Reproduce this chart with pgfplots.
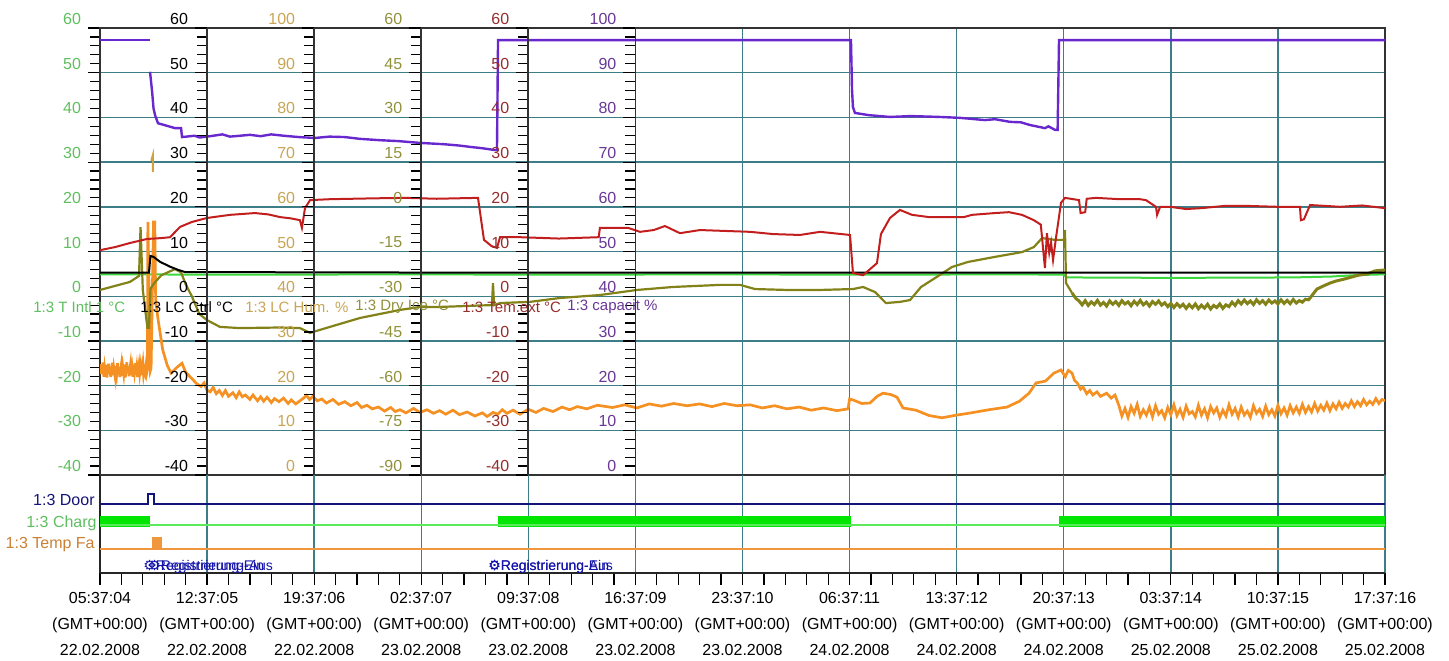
\documentclass[border=0pt]{standalone}
\usepackage{pgfplots}
\pgfplotsset{compat=1.18}
\usepackage{fontspec}
\setmainfont{Liberation Sans}
\newfontfamily\symfont{DejaVu Sans}

\definecolor{gridc}{RGB}{60,125,135}
\definecolor{labgreen}{RGB}{95,190,95}
\definecolor{labtan}{RGB}{200,165,85}
\definecolor{labolive}{RGB}{145,145,60}
\definecolor{labred}{RGB}{150,45,45}
\definecolor{labpurple}{RGB}{105,55,150}
\definecolor{cpurple}{RGB}{105,40,205}
\definecolor{cred}{RGB}{195,30,30}
\definecolor{cgreen}{RGB}{60,215,60}
\definecolor{colive}{RGB}{130,130,25}
\definecolor{corange}{RGB}{245,145,35}
\definecolor{ctan}{RGB}{210,160,60}
\definecolor{cnavy}{RGB}{20,20,120}
\definecolor{cbar}{RGB}{0,230,0}
\definecolor{cbarline}{RGB}{90,235,90}
\definecolor{cfa}{RGB}{240,150,60}
\definecolor{cblue}{RGB}{20,20,170}

\pgfplotsset{
  sideax/.style={
    scale only axis, height=223.5pt, anchor=north west,
    hide x axis, xmin=0, xmax=1,
    axis y line*=left, y axis line style={black!80, line width=0.9pt, -},
    tick align=outside, major tick length=6pt, minor tick length=5pt,
    minor y tick num=4, ytick style={black, line width=0.6pt},
    yticklabel style={yshift=4.5pt, font=\fontsize{8}{9}\selectfont},
    /pgf/number format/assume math mode=true,
  },
}

\begin{document}
\begin{tikzpicture}
\useasboundingbox (0,0) rectangle (724.5pt,-330pt);

% main chart, time in hours from 05:37:04 22.02.2008
\begin{axis}[
  at={(50pt,-14pt)}, anchor=north west,
  scale only axis, width=642.5pt, height=223.5pt,
  xmin=0, xmax=84, ymin=-40, ymax=60,
  xtick={0,7,...,84}, xticklabels={}, xtick style={draw=none},
  ytick={-40,-30,...,60}, minor y tick num=4, ytick pos=left,
  tick align=outside, major tick length=6pt, minor tick length=5pt,
  ytick style={black, line width=0.6pt},
  grid=major, major grid style={gridc, line width=0.7pt},
  axis line style={black!80, line width=0.9pt},
  yticklabel style={text=labgreen, yshift=4.5pt, font=\fontsize{8}{9}\selectfont},
  /pgf/number format/assume math mode=true,
]
% T Intl 1
\addplot[cgreen, line width=1pt] coordinates {
 (0,4.9)(10,4.8)(20,4.9)(30,4.8)(40,4.9)(50,4.8)(60,4.9)(63,4.8)(63.2,4.2)(70,4.1)(78,4.2)(80.5,4.4)(82,4.7)(84,4.9)};
% LC Hum (%)
\addplot[corange, line width=1.35pt, y filter/.expression={y-40}] coordinates {
 (0.00,24.0)(0.05,22.6)(0.10,24.8)(0.15,23.1)(0.20,25.2)(0.25,22.0)(0.30,23.9)(0.35,22.4)(0.40,24.6)(0.45,21.8)
 (0.50,23.5)(0.55,24.9)(0.60,22.7)(0.65,24.2)(0.70,21.9)(0.75,23.8)(0.80,25.1)(0.85,22.3)(0.90,24.0)(0.95,22.8)
 (1.00,21.7)(1.05,24.4)(1.10,23.0)(1.15,25.0)(1.20,22.5)(1.25,24.1)(1.30,21.9)(1.35,23.6)(1.40,24.8)(1.45,22.2)
 (1.50,23.9)(1.55,22.6)(1.60,24.7)(1.65,21.8)(1.70,23.4)(1.75,25.2)(1.80,22.9)(1.85,24.3)(1.90,22.1)(1.95,23.7)
 (2.00,24.9)(2.05,22.4)(2.10,23.8)(2.15,22.0)(2.20,24.5)(2.25,23.1)(2.30,25.0)(2.35,22.6)(2.40,24.0)(2.45,21.9)
 (2.50,23.5)(2.55,24.7)(2.60,22.8)(2.65,24.2)(2.70,22.3)(2.75,23.9)(2.80,25.1)(2.85,22.5)(2.90,23.6)(2.95,22.9)
 (3.00,24.3)(3.05,22.7)(3.10,23.5)
 (3.13,56.6)(3.30,23.5)(3.34,24.0)(3.50,56.6)(3.58,56.6)(3.64,39.0)(3.80,34.7)(4.10,28.0)(4.40,24.5)(4.65,22.8)
 (5.0,24.0)(5.36,25.0)(5.6,23.0)(6.08,21.3)
 (6.3,20.5)(6.6,19.8)(6.8,20.6)(6.99,19.0)(7.2,18.6)(7.4,19.6)(7.6,18.2)(7.8,18.9)(8.0,17.8)(8.2,18.9)
 (8.4,17.6)(8.69,18.4)(8.9,17.3)(9.1,18.6)(9.3,17.5)(9.5,17.9)(9.8,16.9)(10.0,17.9)(10.3,16.6)(10.5,17.5)
 (10.7,16.5)(10.92,17.4)(11.2,16.2)(11.4,17.1)(11.7,16.4)(12,17.2)(12.3,16.0)(12.5,16.8)(12.8,15.9)(13.07,16.6)
 (13.3,17.2)(13.5,17.8)(13.7,16.9)(13.92,17.6)(14.2,16.6)(14.5,17.0)(14.8,16.1)(15.23,16.9)(15.6,15.8)(16,16.4)
 (16.4,15.5)(16.8,16.2)(17.1,15.1)(17.45,15.6)(17.8,14.8)(18.2,15.2)(18.6,14.3)(19.0,15.1)(19.3,14.2)(19.61,14.6)
 (20.0,13.9)(20.5,14.9)(20.9,14.0)(21.38,14.6)(21.8,13.8)(22.2,14.4)(22.6,13.6)(23.07,14.5)(23.5,13.5)(24.0,14.1)
 (24.5,13.2)(25.0,13.9)(25.3,13.1)(25.7,14.0)(26.0,13.6)(26.3,14.6)(26.6,13.8)(27.0,14.5)(27.45,13.6)(28.0,14.7)
 (28.5,14.0)(29.0,14.9)(29.61,14.2)(30.2,15.2)(30.7,14.6)(31.2,15.3)(31.83,14.8)(32.5,15.6)(33.5,15.1)(34.3,15.7)
 (35.1,15.0)(35.9,15.9)(36.7,15.4)(37.5,16.0)(38.37,15.5)(39.2,15.9)(40,15.3)(40.8,16.0)(41.64,15.5)(42.5,15.7)
 (43.3,15.0)(44.1,15.5)(44.91,14.8)(45.7,15.2)(46.5,14.5)(47.3,15.0)(48.18,14.4)(48.9,14.8)(49.0,17.0)(49.22,16.8)
 (49.8,16.0)(50.33,16.1)(50.8,17.6)(51.18,18.3)(51.7,18.0)(52.1,17.4)(52.49,15.0)(53.34,14.5)(54.2,13.3)
 (55.04,12.8)(56.0,13.4)(56.94,13.9)(58.1,14.6)(59.29,15.2)(60.1,16.5)(60.73,18.3)(61.19,20.6)(61.8,21.0)
 (62.36,22.8)(62.82,23.5)(63.1,22.0)(63.3,23.4)(63.54,22.8)(63.7,21.2)(63.9,20.5)(64.1,19.2)(64.26,19.7)
 (64.5,18.2)(64.7,18.9)(64.9,17.9)(65.17,18.6)(65.4,17.6)(65.8,18.3)(66.1,17.2)(66.35,17.9)
 (66.6,15.6)(66.8,13.2)(67.0,14.9)(67.2,12.9)(67.4,15.3)(67.6,13.8)(67.8,15.8)(68.0,13.1)(68.2,14.6)(68.4,13.4)
 (68.6,15.2)(68.8,13.0)(69.0,15.5)(69.2,13.6)(69.4,14.4)(69.6,12.8)(69.8,15.1)(70.0,13.5)(70.2,15.7)(70.4,13.3)
 (70.6,14.7)(70.8,12.9)(71.0,15.4)(71.2,13.7)(71.4,14.2)(71.6,13.0)(71.8,15.6)(72.0,13.4)(72.2,14.8)(72.4,12.8)
 (72.6,15.3)(72.8,13.9)(73.0,15.0)(73.2,12.9)(73.4,14.5)(73.6,13.2)(73.8,15.7)(74.0,13.6)(74.2,14.9)(74.4,13.0)
 (74.6,15.2)(74.8,13.4)(75.0,14.3)(75.2,12.9)(75.4,15.5)(75.6,13.8)(75.8,14.7)(76.0,13.1)(76.2,15.4)(76.4,13.5)
 (76.6,14.6)(76.8,13.2)(77.0,15.6)(77.2,13.7)(77.4,15.0)(77.6,13.4)(77.8,15.5)(78.0,13.9)(78.2,15.2)(78.4,13.8)
 (78.6,15.8)(78.8,14.0)(79.0,15.3)(79.2,14.1)(79.4,16.0)(79.6,14.3)(79.8,15.6)(80.0,14.5)(80.2,16.1)(80.4,14.4)
 (80.6,15.9)(80.8,14.8)(81.0,16.3)(81.2,14.9)(81.4,16.0)(81.6,15.2)(81.8,16.6)(82.0,15.3)(82.2,16.4)(82.4,15.5)
 (82.6,16.9)(82.8,15.7)(83.0,16.5)(83.2,15.8)(83.4,17.1)(83.6,16.0)(83.8,16.9)(84.0,16.6)};
% LC Hum short trace
\addplot[ctan, line width=1pt, y filter/.expression={y-40}] coordinates {(3.35,70.3)(3.46,71.6)(3.46,67.8)};
% Dry Ice (scale -90..60)
\addplot[colive, line width=1.1pt, y filter/.expression={(y+90)*2/3-40}] coordinates {
 (0,-27.9)(1.96,-25.2)(2.55,-23.2)(2.65,-6.8)(2.8,-28.0)(3.1,-40.6)(3.2,-40.6)(3.3,-27.5)(3.5,-25.9)
 (4.0,-23.0)(4.9,-20.9)(5.3,-22.0)(5.6,-26.0)(6.0,-30.0)(6.5,-36.0)(6.99,-38.0)(7.84,-40.3)
 (9.15,-40.7)(11.77,-40.5)(13.07,-40.7)(13.73,-42.3)(14.38,-41.3)(15.03,-40.3)(17.0,-37.3)(19.61,-34.6)
 (20.92,-33.6)(22.23,-33.6)(25.49,-33.0)(25.62,-33.0)(25.69,-25.6)(25.76,-33.0)(26.15,-32.3)(28.11,-31.9)
 (30.07,-30.6)(32.68,-29.6)(35.1,-27.9)(37.46,-26.9)(40.53,-26.2)(41.84,-26.2)(42.82,-27.6)(44.91,-27.9)
 (47.07,-27.9)(49.22,-27.6)(49.88,-26.9)(50.66,-28.6)(51.38,-32.3)(52.29,-31.9)(52.95,-31.3)(53.67,-26.9)
 (54.71,-23.5)(55.69,-20.2)(56.74,-18.5)(58.5,-16.8)(60.27,-15.2)(61.05,-13.5)(61.58,-10.5)(62.43,-11.1)
 (63.01,-11.1)(63.08,-7.8)(63.15,-25.6)(63.54,-28.9)};
\addplot[colive, line width=1.5pt, y filter/.expression={(y+90)*2/3-40}] coordinates {
 (63.54,-28.9)(63.8,-30.8)(64.0,-31.6)(64.2,-32.9)(64.4,-31.5)(64.6,-33.1)(64.8,-31.9)(65.0,-32.8)(65.2,-31.4)
 (65.4,-33.0)(65.6,-32.1)(65.8,-33.3)(66.0,-31.6)(66.2,-32.7)(66.4,-31.8)(66.6,-33.1)(66.8,-31.5)(67.0,-32.6)
 (67.2,-31.9)(67.4,-33.2)(67.6,-31.7)(67.8,-32.8)(68.0,-31.4)(68.2,-32.9)(68.4,-32.0)(68.6,-33.3)(68.8,-31.8)
 (69.0,-32.7)(69.2,-31.6)(69.4,-33.0)(69.6,-32.2)(69.8,-33.5)(70.0,-32.4)(70.2,-33.8)(70.4,-32.5)(70.6,-33.6)
 (70.8,-32.7)(71.0,-34.1)(71.2,-32.8)(71.4,-33.9)(71.6,-32.6)(71.8,-34.2)(72.0,-33.0)(72.2,-34.0)(72.4,-32.7)
 (72.6,-34.3)(72.8,-33.1)(73.0,-33.8)(73.2,-32.6)(73.4,-34.1)(73.6,-32.9)(73.8,-33.5)(74.0,-32.0)(74.2,-33.1)
 (74.4,-31.5)(74.6,-32.6)(74.8,-31.3)(75.0,-32.5)(75.2,-31.6)(75.4,-32.8)(75.6,-31.2)(75.8,-32.4)(76.0,-31.5)
 (76.2,-32.7)(76.4,-31.3)(76.6,-32.3)(76.8,-31.6)(77.0,-32.6)(77.2,-31.2)(77.4,-32.4)(77.6,-31.4)(77.8,-32.5)
 (78.0,-31.1)(78.2,-32.3)(78.4,-31.5)(78.6,-32.0)(78.8,-31.0)(79.0,-31.2)(79.1,-30.6)(79.55,-27.6)(80.0,-26.5)
 (80.4,-25.6)(80.8,-24.9)(81.3,-24.3)(81.8,-23.6)(82.3,-22.9)(82.8,-22.6)(83.35,-21.5)(84,-21.2)};
% LC Ctrl
\addplot[black, line width=1pt] coordinates {
 (0,5.3)(3.2,5.3)(3.3,9.0)(3.5,8.8)(3.92,7.7)(4.58,6.6)(5.1,5.9)(5.56,5.4)(20,5.3)(40,5.3)(60,5.3)(84,5.3)};
% Tem.ext
\addplot[cred, line width=1pt] coordinates {
 (0,10.3)(1.0,11.0)(1.96,11.9)(3.07,12.8)(4.0,13.0)(4.58,13.2)(5.23,15.5)(6.0,16.6)(6.99,17.5)(8.5,18.2)
 (10.13,18.6)(11.0,18.3)(11.77,17.7)(12.5,17.4)(13.07,17.0)(13.2,15.3)(13.4,19.7)(13.73,21.5)(15.03,21.7)
 (18,21.9)(20,22.0)(22,21.8)(24.71,22.0)(25.1,12.6)(25.6,11.2)(25.95,10.8)(26.15,13.2)(27.45,13.2)
 (30,12.9)(32.6,13.2)(32.68,15.3)(34.51,15.3)(35.3,14.4)(36.2,14.8)(36.93,15.7)(37.91,14.1)(39.22,14.8)
 (42.49,14.4)(44,13.9)(45.76,13.7)(47.07,14.4)(49.03,13.7)(49.22,5.2)(49.88,4.7)(50.79,7.4)(51.05,13.9)
 (51.64,17.5)(52.29,19.3)(53.08,18.2)(54.19,17.7)(56.48,17.7)(57.0,18.2)(58.5,18.6)(59.42,18.8)(60.27,18.2)
 (61.05,17.0)(61.5,16.0)(61.77,6.3)(61.9,14.1)(62.05,9.7)(62.17,12.0)(62.3,8.1)(62.49,13.0)(62.82,20.9)
 (63.08,22.0)(64.0,21.5)(64.1,18.6)(64.4,18.8)(64.5,21.8)(65.11,22.0)(66.68,21.7)(67.98,21.7)(68.37,21.5)
 (68.63,20.9)(69.03,20.0)(69.1,18.2)(69.3,20.0)(69.94,20.0)(71.0,19.5)(72,19.7)(73.5,20.2)(75,20.2)
 (77,20.0)(78.44,20.0)(78.5,17.0)(78.7,17.2)(79.1,20.4)(81.06,20.0)(82.5,20.3)(84,19.7)};
% capacit (%)
\addplot[cpurple, line width=1.2pt, y filter/.expression={y-40}] coordinates {(0,97.3)(3.25,97.3)};
\addplot[cpurple, line width=1.2pt, y filter/.expression={y-40}] coordinates {
 (3.27,90.2)(3.4,86.0)(3.5,82.0)(3.6,80.5)(3.79,78.7)(4.3,78.2)(4.9,77.6)(5.3,77.6)(5.36,75.6)(6.2,75.9)
 (6.5,75.5)(7.2,75.8)(8.0,76.2)(8.5,75.7)(9.8,76.1)(10.5,75.8)(11.2,76.2)(12,75.9)(13,75.6)(14.05,75.4)
 (15,75.7)(16,75.6)(17,75.2)(18.3,74.9)(19.5,74.7)(20.9,74.3)(22.5,74.0)(23.5,73.7)(24.2,73.4)(25,73.1)
 (25.8,72.7)(25.95,72.7)(26.02,97.3)(49.09,97.3)(49.16,86.1)(49.22,82.3)(49.35,81.0)(50.27,80.5)
 (51.64,80.1)(53,80.3)(54.91,80.1)(56.22,79.9)(57.85,79.4)(58.5,79.6)(59.49,79.0)(60.2,78.9)(60.79,78.3)
 (61.77,77.6)(62.0,78.0)(62.43,77.2)(62.6,77.2)(62.69,97.3)(84,97.3)};
\end{axis}

% extra scales on the grid lines
\begin{axis}[sideax, at={(103.54pt,-14pt)}, width=588.96pt, ymin=-40, ymax=60,
  ytick={-40,-30,...,60}, yticklabel style={text=black}]
\end{axis}
\begin{axis}[sideax, at={(157.08pt,-14pt)}, width=535.42pt, ymin=0, ymax=100,
  ytick={0,10,...,100}, yticklabel style={text=labtan}]
\end{axis}
\begin{axis}[sideax, at={(210.63pt,-14pt)}, width=481.87pt, ymin=-90, ymax=60,
  ytick={-90,-75,...,60}, yticklabel style={text=labolive}]
\end{axis}
\begin{axis}[sideax, at={(264.17pt,-14pt)}, width=428.33pt, ymin=-40, ymax=60,
  ytick={-40,-30,...,60}, yticklabel style={text=labred}]
\end{axis}
\begin{axis}[sideax, at={(317.71pt,-14pt)}, width=374.79pt, ymin=0, ymax=100,
  ytick={0,10,...,100}, yticklabel style={text=labpurple}]
\end{axis}

% digital channels strip
\begin{axis}[
  at={(50pt,-237.5pt)}, anchor=north west,
  scale only axis, width=642.5pt, height=49pt,
  xmin=0, xmax=84, ymin=0, ymax=98,
  axis x line*=bottom, axis y line*=left,
  axis line style={black!85, line width=0.9pt, -},
  ytick=\empty,
  xtick={0,7,...,84}, minor x tick num=4,
  tick align=outside, major tick length=6pt, minor tick length=6pt,
  xtick style={black, line width=0.6pt},
  xmajorgrids, major grid style={gridc, line width=0.7pt},
  xticklabel style={align=center, font=\fontsize{8}{13}\selectfont},
  xticklabels={
    {05:37:04\\(GMT+00:00)\\22.02.2008},{12:37:05\\(GMT+00:00)\\22.02.2008},
    {19:37:06\\(GMT+00:00)\\22.02.2008},{02:37:07\\(GMT+00:00)\\23.02.2008},
    {09:37:08\\(GMT+00:00)\\23.02.2008},{16:37:09\\(GMT+00:00)\\23.02.2008},
    {23:37:10\\(GMT+00:00)\\23.02.2008},{06:37:11\\(GMT+00:00)\\24.02.2008},
    {13:37:12\\(GMT+00:00)\\24.02.2008},{20:37:13\\(GMT+00:00)\\24.02.2008},
    {03:37:14\\(GMT+00:00)\\25.02.2008},{10:37:15\\(GMT+00:00)\\25.02.2008},
    {17:37:16\\(GMT+00:00)\\25.02.2008}},
]
\addplot[fill=cbar, draw=none] coordinates {(0,46)(3.27,46)(3.27,57)(0,57)};
\addplot[fill=cbar, draw=none] coordinates {(26.02,46)(49.09,46)(49.09,57)(26.02,57)};
\addplot[fill=cbar, draw=none] coordinates {(62.69,46)(84,46)(84,57)(62.69,57)};
\addplot[cbarline, line width=1.4pt] coordinates {(0,48)(84,48)};
\addplot[cnavy, line width=1pt] coordinates {(0,69)(3.14,69)(3.14,79)(3.53,79)(3.53,69)(84,69)};
\addplot[fill=cfa, draw=none] coordinates {(3.4,24)(4.05,24)(4.05,36)(3.4,36)};
\addplot[cfa, line width=0.9pt] coordinates {(0,24)(84,24)};
\end{axis}

% channel names
\begin{scope}[font=\fontsize{7.5}{8}\selectfont]
\node[anchor=west, inner sep=0, text=labgreen] at (16.5pt,-153.5pt) {1:3 T Intl 1 °C};
\node[anchor=west, inner sep=0, text=black] at (70pt,-153.5pt) {1:3 LC Ctrl °C};
\node[anchor=west, inner sep=0, text=labtan] at (122.5pt,-153.5pt) {1:3 LC Hum. \%};
\node[anchor=west, inner sep=0, text=labolive] at (177.5pt,-153.5pt) {1:3 Dry Ice °C};
\node[anchor=west, inner sep=0, text=labred] at (231pt,-153.5pt) {1:3 Tem.ext °C};
\node[anchor=west, inner sep=0, text=labpurple] at (283.5pt,-153.5pt) {1:3 capacit \%};
\end{scope}
\begin{scope}[font=\fontsize{8}{9}\selectfont]
\node[anchor=east, inner sep=0, text=cnavy] at (47.5pt,-250pt) {1:3 Door};
\node[anchor=east, inner sep=0, text=labgreen] at (48.5pt,-261.5pt) {1:3 Charg};
\node[anchor=east, inner sep=0, text=cfa!85!black] at (47.5pt,-272.5pt) {1:3 Temp Fa};
\end{scope}
\begin{scope}[font=\fontsize{7}{8}\selectfont, text=cblue]
\node[anchor=west, inner sep=0] at (71.5pt,-283.5pt) {{\symfont ⚙}Registrierung-Ein};
\node[anchor=west, inner sep=0] at (74pt,-283.5pt) {{\symfont ⚙}Registrierung-Aus};
\node[anchor=west, inner sep=0] at (244pt,-283.5pt) {{\symfont ⚙}Registrierung-Ein};
\node[anchor=west, inner sep=0] at (244pt,-283.5pt) {{\symfont ⚙}Registrierung-Aus};
\end{scope}
\end{tikzpicture}
\end{document}
